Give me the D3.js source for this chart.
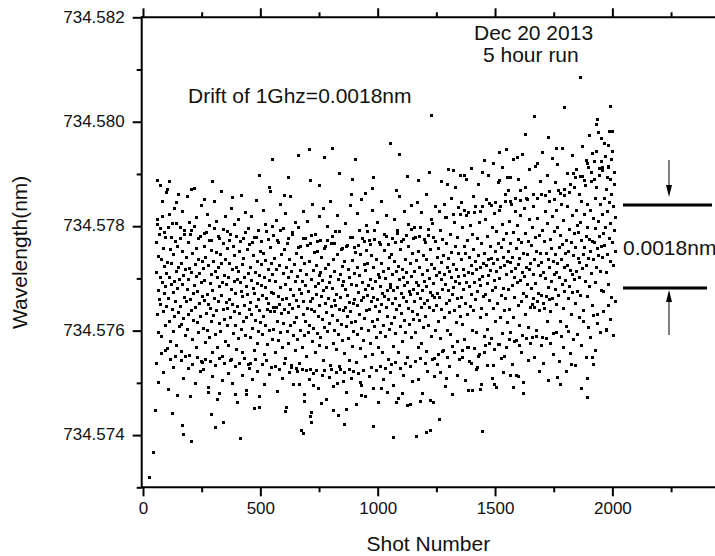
<!DOCTYPE html>
<html>
<head>
<meta charset="utf-8">
<script src="https://d3js.org/d3.v7.min.js"></script>
<style>
  body { margin: 0; background: #fff; }
  svg { display: block; }
  text { font-family: "Liberation Sans", Arial, sans-serif; fill: #111; }
</style>
</head>
<body>
<div id="chart"></div>
<script>
// wavelength = BASE + n * 1e-5 nm, n
var BASE = 734.573;

// dense band, one value every 2 shots starting at bandStart[k]
var bandStart = [56, 556, 1056, 1556];
var bandStep = 2;

var bandA = [
  412,468,331,503,376,442,297,359,485,401,350,437,288,519,392,336,458,371,423,310,478,384,346,409,265,
  431,362,497,318,402,455,280,389,428,341,506,373,299,446,394,327,470,356,414,272,381,462,335,420,308,
  398,347,476,312,429,261,388,452,323,405,364,491,290,417,355,440,302,378,468,330,397,252,419,360,485,
  339,411,283,447,371,320,499,386,344,426,268,403,458,315,374,437,296,410,352,481,327,392,241,433,366,
  419,305,462,357,396,278,440,333,488,369,301,425,350,472,286,391,343,454,317,408,259,376,432,329,495,
  362,414,292,449,338,401,267,421,356,477,313,384,445,298,367,428,251,393,340,466,321,405,279,436,354,
  388,310,457,343,402,271,429,360,484,326,379,244,418,351,461,294,395,336,443,309,372,420,263,398,347,
  413,284,451,333,392,470,302,375,427,258,366,439,318,401,349,488,290,384,325,455,370,236,409,341,464,
  354,421,287,396,331,468,305,380,443,262,371,412,320,479,346,391,276,433,359,299,405,338,452,315,386,
  426,293,367,448,328,401,254,382,435,310,362,490,341,274,417,352,396,301,459,336,373,429,283,407,344
];

var bandB = [
  371,302,438,336,394,259,417,345,472,318,366,281,425,350,491,297,383,332,446,268,359,409,313,455,340,
  388,247,421,362,299,467,334,402,276,351,436,309,378,229,413,343,484,290,368,427,315,395,262,448,357,
  326,404,283,459,347,379,238,416,301,372,441,267,394,330,476,355,290,429,318,386,251,408,342,463,297,
  374,433,310,356,226,398,341,482,279,362,415,304,449,337,385,258,424,369,295,451,328,390,272,406,349,
  412,287,365,440,321,396,243,377,458,306,352,419,268,383,335,473,299,361,426,314,392,233,404,346,467,
  329,381,276,437,358,301,414,349,489,264,370,320,445,293,397,341,231,408,363,456,311,386,282,423,338,
  395,256,432,344,379,307,461,327,367,418,285,354,243,401,336,478,315,389,270,434,352,298,410,360,449,
  318,387,239,421,348,292,463,373,330,405,266,446,357,304,392,476,281,364,427,323,378,250,416,339,454,
  367,429,300,386,341,472,275,398,355,443,317,381,254,420,363,308,491,346,394,287,437,359,322,408,268,
  402,337,465,296,384,350,428,259,372,414,310,453,365,289,399,344,481,327,376,245,419,360,303,440,382
];

var bandC = [
  389,314,446,352,408,270,377,432,326,469,361,295,414,340,486,382,258,423,348,397,307,455,371,333,418,
  280,401,363,474,319,386,436,297,355,411,248,392,343,462,375,312,428,369,493,286,404,337,447,321,379,
  413,355,478,296,392,434,331,371,267,451,386,319,420,362,497,345,275,408,376,443,306,395,352,469,328,
  384,437,261,416,358,483,310,399,344,456,373,289,427,367,505,338,390,246,419,364,471,301,405,348,440,
  372,458,317,411,363,492,285,430,398,341,475,379,262,444,407,326,516,388,352,467,301,420,376,439,334,
  413,357,485,293,401,449,369,270,426,382,507,338,395,461,315,418,361,479,279,404,447,346,390,522,327,
  436,364,497,311,418,379,462,283,405,448,352,521,393,330,473,412,267,440,384,501,346,425,369,484,301,
  410,455,338,392,526,360,432,296,417,476,374,251,444,398,508,325,421,387,466,342,403,538,365,429,289,
  447,370,512,331,424,391,480,303,436,405,543,358,416,462,284,439,377,497,342,428,396,525,318,451,383,
  414,490,352,437,274,466,399,531,326,420,459,367,504,295,441,381,474,339,425,548,362,408,486,316,433
];

var bandD = [
  452,378,509,341,431,466,297,414,542,386,440,325,487,401,363,528,419,282,458,393,502,349,427,475,310,
  438,396,521,355,468,412,290,447,372,534,404,331,486,421,365,553,389,445,306,471,417,513,344,429,380,
  463,351,497,408,362,538,437,345,479,391,300,452,356,514,424,371,483,339,447,405,560,368,431,286,492,
  412,352,471,343,528,399,448,366,506,318,437,383,547,359,420,474,337,458,395,519,361,433,294,489,407,
  446,379,531,412,350,497,428,569,367,459,401,318,482,436,542,389,465,342,511,420,375,558,448,396,307,
  473,425,537,361,452,493,384,416,579,331,468,407,521,373,444,601,398,486,352,459,530,414,375,502,439,
  488,402,561,431,507,367,472,548,419,596,446,339,523,460,394,577,481,425,542,366,497,613,438,475,385,
  530,452,409,586,471,349,514,437,624,468,392,553,496,421,575,458,330,509,444,598,480,413,541,462,377,
  522,441,607,486,375,553,463,634,498,412,571,446,529,389,615,477,545,432,590,505,364,561,468,643,424,
  538,492,580,451,516
];

// thinner fringe just above and below the band, one value every 5 shots
var fringeStart = 58;
var fringeStep = 5;
var fringe = [
  238,512,201,496,256,547,219,488,262,571,187,523,244,479,229,534,251,505,176,560,
  498,243,528,209,484,251,556,227,507,174,491,236,573,198,517,248,476,221,539,239,
  226,486,245,522,192,501,240,472,212,548,233,509,168,481,247,566,205,493,237,519,
  490,218,473,243,533,199,504,231,480,162,512,238,558,214,477,246,526,185,496,227,
  238,518,207,479,244,549,221,492,173,470,235,531,196,503,242,474,216,567,229,499,
  483,232,510,184,469,226,542,209,495,238,524,152,476,219,557,234,488,197,507,228,
  221,497,197,462,226,529,178,476,224,509,206,467,143,541,218,484,223,470,189,518,
  473,215,534,224,461,168,500,211,548,226,480,193,466,220,521,137,490,225,458,203,
  219,505,181,463,225,539,209,478,222,460,158,524,217,492,201,552,224,470,173,501,
  489,212,464,229,531,189,474,224,508,163,468,231,547,207,484,227,520,182,465,219,
  236,476,194,512,239,491,171,556,228,470,214,528,237,483,157,503,231,539,203,477,
  497,241,545,207,480,246,526,180,474,238,561,221,493,166,513,244,479,212,537,235,
  254,528,219,586,261,541,193,517,248,608,232,553,178,522,258,574,214,536,245,597,
  546,262,531,204,589,268,527,241,611,186,556,266,538,225,579,254,529,197,602,259,
  271,552,233,598,276,539,209,621,264,545,192,583,274,537,247,612,220,561,268,594,
  568,283,547,236,627,279,553,214,590,272,549,258,638,201,575,284,551,243,609,276,
  287,561,249,614,289,553,222,585,271,642,237,558,285,597,205,567,276,629,254,552,
  583,296,618,241,562,289,649,268,571,222,601,298,565,257,636,283,575,234,608,293,
  325,596,271,652,318,588,249,621,306,674,287,603,329,590,262,643,313,611,296,667,
  612,336,658,301,594,348,681,322,627,290,603,355
];

// scattered points far from the band: [shot, n]
var sparseLow = [
  [26,19],[43,66],[54,147],[125,141],[167,118],[173,101],[207,88],[281,181],[290,140],[311,115],
  [324,179],[341,124],[395,177],[415,94],[439,177],[476,151],[498,153],[609,145],[676,108],[686,103],
  [690,164],[712,136],[719,124],[726,195],[761,160],[811,148],[828,198],[858,120],[868,149],[929,175],
  [932,195],[984,116],[1017,190],[1067,95],[1081,163],[1107,179],[1138,158],[1165,97],[1183,164],[1209,105],
  [1227,108],[1237,163],[1265,129],[1294,209],[1362,249],[1386,185],[1400,238],[1426,229],[1436,188],[1447,106],
  [1493,234],[1496,196],[1535,219],[1542,250],[1564,215],[1578,191],[1599,212],[1620,179],[1765,211],[1777,196],
  [1827,236],[1869,190],[1892,172],[1893,209],[1916,249],[1919,236],[1973,303]
];

var sparseHigh = [
  [60,588],[75,578],[101,564],[111,586],[143,546],[207,570],[261,552],[297,586],[380,554],[498,598],
  [541,575],[551,628],[602,559],[622,593],[662,636],[709,646],[714,588],[750,577],[773,631],[808,648],
  [839,601],[889,561],[892,589],[906,628],[949,563],[979,573],[981,594],[1055,659],[1081,569],[1095,638],
  [1128,596],[1173,588],[1220,602],[1231,711],[1298,580],[1322,606],[1372,598],[1453,625],[1517,641],[1521,588],
  [1550,646],[1564,594],[1595,631],[1609,569],[1628,676],[1670,710],[1680,620],[1726,669],[1760,648],[1798,727],
  [1841,594],[1864,784],[1888,626],[1916,639],[1934,694],[1937,705],[1939,680],[1954,623],[1983,655],[1985,612],
  [1993,729],[2001,682]
];

var xMajor = [0, 500, 1000, 1500, 2000];
var xMinor = [250, 750, 1250, 1750, 2250];
var yMajor = [734.574, 734.576, 734.578, 734.580, 734.582];
var yMinor = [734.573, 734.575, 734.577, 734.579, 734.581];

var width = 715, height = 556;
var pLeft = 141.7, pRight = 718, pTop = 17.3, pBottom = 487.3;

var svg = d3.select("#chart").append("svg")
  .attr("width", width)
  .attr("height", height);

var x = d3.scaleLinear().domain([-5.5, 2450]).range([pLeft, pRight]);
var y = d3.scaleLinear().domain([734.573, 734.582]).range([pBottom, pTop]);

// collect all points
var points = [];
[bandA, bandB, bandC, bandD].forEach(function(arr, k) {
  arr.forEach(function(n, i) {
    points.push({ shot: bandStart[k] + i * bandStep, wl: BASE + n * 1e-5 });
  });
});
fringe.forEach(function(n, i) {
  points.push({ shot: fringeStart + i * fringeStep, wl: BASE + n * 1e-5 });
});
sparseLow.concat(sparseHigh).forEach(function(p) {
  points.push({ shot: p[0], wl: BASE + p[1] * 1e-5 });
});

svg.append("g").attr("class", "dots")
  .selectAll("rect")
  .data(points).enter()
  .append("rect")
  .attr("x", function(d) { return Math.round(x(d.shot) - 1.5); })
  .attr("y", function(d) { return Math.round(y(d.wl) - 1.5); })
  .attr("width", 3)
  .attr("height", 3)
  .attr("fill", "#000")
  .attr("shape-rendering", "crispEdges");

// axes
function styleAxis(g) {
  g.attr("font-family", null).attr("font-size", null);
  g.select(".domain").remove();
  g.selectAll("line").attr("stroke", "#000").attr("stroke-width", 2);
}

var bottomAxis = svg.append("g")
  .attr("transform", "translate(0," + pBottom + ")")
  .call(d3.axisBottom(x).tickValues(xMajor).tickSize(9).tickPadding(6).tickFormat(d3.format("d")));
bottomAxis.call(styleAxis);
bottomAxis.selectAll("text").attr("font-size", 17).attr("fill", "#111");

svg.append("g")
  .attr("transform", "translate(0," + pBottom + ")")
  .call(d3.axisBottom(x).tickValues(xMinor).tickSize(5).tickFormat(""))
  .call(styleAxis);

svg.append("g")
  .attr("transform", "translate(0," + pTop + ")")
  .call(d3.axisTop(x).tickValues(xMajor).tickSize(9).tickFormat(""))
  .call(styleAxis);
svg.append("g")
  .attr("transform", "translate(0," + pTop + ")")
  .call(d3.axisTop(x).tickValues(xMinor).tickSize(5).tickFormat(""))
  .call(styleAxis);

var leftAxis = svg.append("g")
  .attr("transform", "translate(" + pLeft + ",0)")
  .call(d3.axisLeft(y).tickValues(yMajor).tickSize(9).tickPadding(8).tickFormat(d3.format(".3f")));
leftAxis.call(styleAxis);
leftAxis.selectAll("text").attr("font-size", 17).attr("fill", "#111").attr("dy", "0.28em");

svg.append("g")
  .attr("transform", "translate(" + pLeft + ",0)")
  .call(d3.axisLeft(y).tickValues(yMinor).tickSize(5).tickFormat(""))
  .call(styleAxis);

// frame
var frame = svg.append("g").attr("stroke", "#000").attr("stroke-width", 2);
frame.append("line").attr("x1", pLeft).attr("x2", pLeft).attr("y1", pTop - 1).attr("y2", pBottom + 1);
frame.append("line").attr("x1", pLeft).attr("x2", pRight).attr("y1", pTop).attr("y2", pTop);
frame.append("line").attr("x1", pLeft).attr("x2", pRight).attr("y1", pBottom).attr("y2", pBottom);
frame.append("line").attr("x1", pRight).attr("x2", pRight).attr("y1", pTop).attr("y2", pBottom);

// axis titles
svg.append("text")
  .attr("x", (pLeft + 715) / 2)
  .attr("y", 551)
  .attr("text-anchor", "middle")
  .attr("font-size", 21)
  .text("Shot Number");

svg.append("text")
  .attr("transform", "translate(27," + ((pTop + pBottom) / 2) + ") rotate(-90)")
  .attr("text-anchor", "middle")
  .attr("font-size", 21)
  .text("Wavelength(nm)");

// annotations
svg.append("text").attr("x", 474).attr("y", 40).attr("font-size", 21).text("Dec 20 2013");
svg.append("text").attr("x", 483).attr("y", 62).attr("font-size", 21).text("5 hour run");
svg.append("text").attr("x", 188).attr("y", 103).attr("font-size", 21).text("Drift of 1Ghz=0.0018nm");

// drift marker: two bars and arrows
var ann = svg.append("g");
ann.append("line").attr("x1", 623).attr("x2", 712).attr("y1", 205).attr("y2", 205)
  .attr("stroke", "#000").attr("stroke-width", 2.8);
ann.append("line").attr("x1", 623).attr("x2", 707).attr("y1", 288).attr("y2", 288)
  .attr("stroke", "#000").attr("stroke-width", 2.8);
ann.append("line").attr("x1", 669).attr("x2", 669).attr("y1", 160).attr("y2", 192)
  .attr("stroke", "#000").attr("stroke-width", 1);
ann.append("path").attr("d", "M666,185 L672,185 L669,197 Z").attr("fill", "#000");
ann.append("line").attr("x1", 669).attr("x2", 669).attr("y1", 296).attr("y2", 335)
  .attr("stroke", "#000").attr("stroke-width", 1);
ann.append("path").attr("d", "M666,302 L672,302 L669,290 Z").attr("fill", "#000");
svg.append("text").attr("x", 623).attr("y", 255).attr("font-size", 21).text("0.0018nm");
</script>
</body>
</html>
